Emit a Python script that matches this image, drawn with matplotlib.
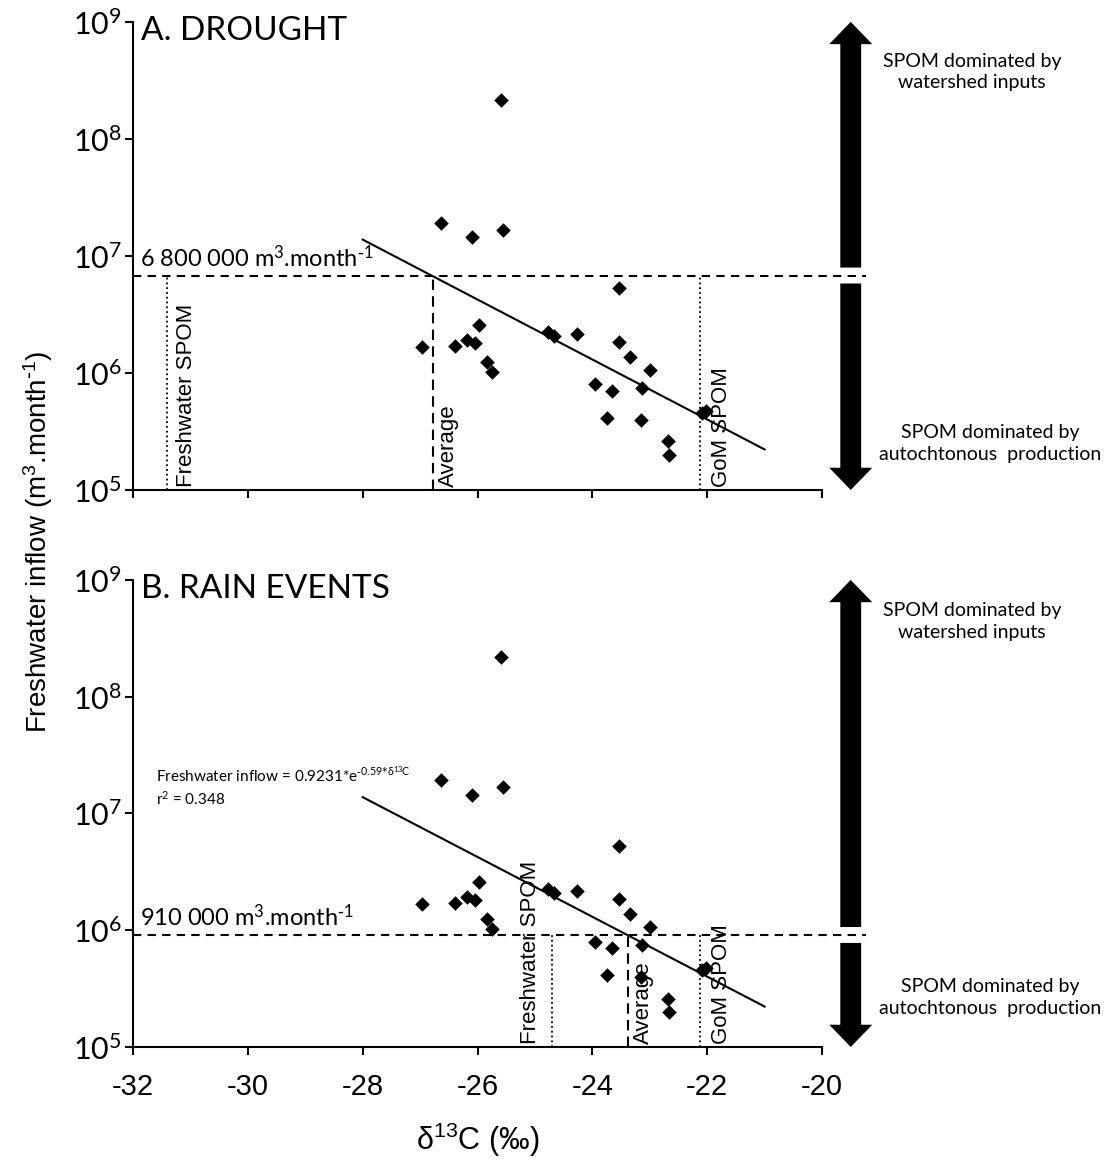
import matplotlib
matplotlib.use("Agg")
import numpy as np
import matplotlib.pyplot as plt
from matplotlib.ticker import NullLocator

plt.rcParams['font.family'] = ['Liberation Sans', 'DejaVu Sans']
plt.rcParams['axes.unicode_minus'] = False

# measured samples (same set shown in both panels)
d13c = [-25.59, -26.64, -26.09, -25.56, -23.53, -26.96, -26.39, -26.18, -25.97, -26.05,
        -25.84, -25.74, -24.77, -24.67, -24.26, -23.53, -23.35, -23.00, -23.95, -23.66,
        -23.14, -23.74, -23.16, -22.09, -22.02, -22.68, -22.67]
inflow = [2.17e8, 1.92e7, 1.44e7, 1.68e7, 5.28e6, 1.67e6, 1.70e6, 1.91e6, 2.59e6, 1.82e6,
          1.24e6, 1.02e6, 2.25e6, 2.08e6, 2.15e6, 1.85e6, 1.38e6, 1.07e6, 8.0e5, 7.06e5,
          7.5e5, 4.1e5, 3.97e5, 4.58e5, 4.7e5, 2.6e5, 2.0e5]

# exponential fit: inflow = a * exp(b * d13C)
fit_a, fit_b = 0.9231, -0.59
fit_x = [-28, -21]

panels = ['A. DROUGHT', 'B. RAIN EVENTS']
thresholds = [6.8e6, 9.1e5]
threshold_txt = ['6 800 000', '910 000']
freshwater_spom = [-31.4, -24.7]
average = [-26.77, -23.38]
gom_spom = [-22.12, -22.12]

xticks = [-32, -30, -28, -26, -24, -22, -20]
yticks = [1e5, 1e6, 1e7, 1e8, 1e9]
ytick_labels = [r'$\mathregular{10^{%d}}$' % e for e in range(5, 10)]

unit = r' m$\mathregular{^{3}}$.month$\mathregular{^{\text{-}1}}$'

fig = plt.figure(figsize=(11.14, 11.66), dpi=100)
axA = fig.add_axes([0.1194, 0.5798, 0.6185, 0.4014])
axB = fig.add_axes([0.1194, 0.1021, 0.6185, 0.4005])
axes = [axA, axB]

xs = np.linspace(fit_x[0], fit_x[1], 50)
arrow_x = -19.5
arrow_style = 'simple,head_length=16,head_width=31,tail_width=15'
top_txt_y = [0.893, 0.912]
bot_txt_y = [0.100, 0.105]

for i, ax in enumerate(axes):
    ax.set_yscale('log')
    ax.set_xlim(-32, -20)
    ax.set_ylim(1e5, 1e9)
    ax.set_xticks(xticks)
    ax.set_yticks(yticks)
    ax.set_yticklabels(ytick_labels)
    ax.yaxis.set_minor_locator(NullLocator())
    for s in ['top', 'right']:
        ax.spines[s].set_visible(False)
    for s in ['left', 'bottom']:
        ax.spines[s].set_linewidth(1.5)
    ax.tick_params(axis='both', direction='out', length=6, width=1.5)
    ax.tick_params(axis='y', labelsize=22, labelfontfamily='Lato', pad=2)
    ax.tick_params(axis='x', labelsize=21, pad=13)
    if i == 0:
        ax.tick_params(axis='x', labelbottom=False)

    ax.scatter(d13c, inflow, marker='D', s=55, color='black', zorder=5, linewidths=0)
    ax.plot(xs, fit_a * np.exp(fit_b * xs), color='black', lw=1.5, zorder=4)

    thr = thresholds[i]
    ax.plot([-32, -19.23], [thr, thr], color='black', lw=1.5, ls=(0, (4, 3)),
            clip_on=False, zorder=3)
    ax.plot([freshwater_spom[i]] * 2, [1e5, thr], color='black', lw=1.3, ls=':')
    ax.plot([average[i]] * 2, [1e5, thr], color='black', lw=1.5, ls=(0, (5, 3)))
    ax.plot([gom_spom[i]] * 2, [1e5, thr], color='black', lw=1.3, ls=':')

    ax.text(-31.88, thr * 1.1, threshold_txt[i] + unit,
            fontfamily='Lato', fontsize=17, va='bottom', ha='left')

    if i == 0:
        ax.text(freshwater_spom[i] + 0.15, 1.05e5, 'Freshwater SPOM', rotation=90,
                fontsize=16, ha='left', va='bottom')
    else:
        ax.text(freshwater_spom[i] - 0.2, 1.05e5, 'Freshwater SPOM', rotation=90,
                fontsize=16, ha='right', va='bottom')
    ax.text(average[i] + 0.08, 1.05e5, 'Average', rotation=90,
            fontsize=16, ha='left', va='bottom')
    ax.text(gom_spom[i] + 0.18, 1.05e5, 'GoM SPOM', rotation=90,
            fontsize=16, ha='left', va='bottom')

    ax.text(0.012, 1.012, panels[i], transform=ax.transAxes, fontfamily='Lato',
            fontsize=24, ha='left', va='top')

    # interpretation arrows beside each panel
    ax.annotate('', xy=(arrow_x, 1e9), xytext=(arrow_x, thr * 1.17), annotation_clip=False,
                arrowprops=dict(arrowstyle=arrow_style, mutation_scale=1, shrinkA=0, shrinkB=0,
                                fc='black', ec='black', lw=0))
    ax.annotate('', xy=(arrow_x, 1e5), xytext=(arrow_x, thr / 1.17), annotation_clip=False,
                arrowprops=dict(arrowstyle=arrow_style, mutation_scale=1, shrinkA=0, shrinkB=0,
                                fc='black', ec='black', lw=0))
    ax.text(1.218, top_txt_y[i], 'SPOM dominated by\nwatershed inputs', transform=ax.transAxes,
            fontfamily='Lato', fontsize=14, ha='center', va='center', linespacing=1.35)
    ax.text(1.244, bot_txt_y[i], 'SPOM dominated by\nautochtonous  production', transform=ax.transAxes,
            fontfamily='Lato', fontsize=14, ha='center', va='center', linespacing=1.35)

axB.text(-31.6, 1.75e7, r'Freshwater inflow = 0.9231*e$\mathregular{^{\text{-}0.59\text{*}δ^{13}C}}$',
         fontfamily='Lato', fontsize=11, ha='left', va='bottom')
axB.text(-31.6, 1.6e7, r'r$\mathregular{^{2}}$ = 0.348',
         fontfamily='Lato', fontsize=11, ha='left', va='top')

axB.set_xlabel(r'δ$\mathregular{^{13}}$C (‰)', fontsize=22, labelpad=14)
fig.text(0.034, 0.535, 'Freshwater inflow (m$\\mathregular{^{3}}$.month$\\mathregular{^{\\text{-}1}}$)',
         rotation=90, ha='center', va='center', fontsize=20)

fig.savefig('out.png', dpi=100)
